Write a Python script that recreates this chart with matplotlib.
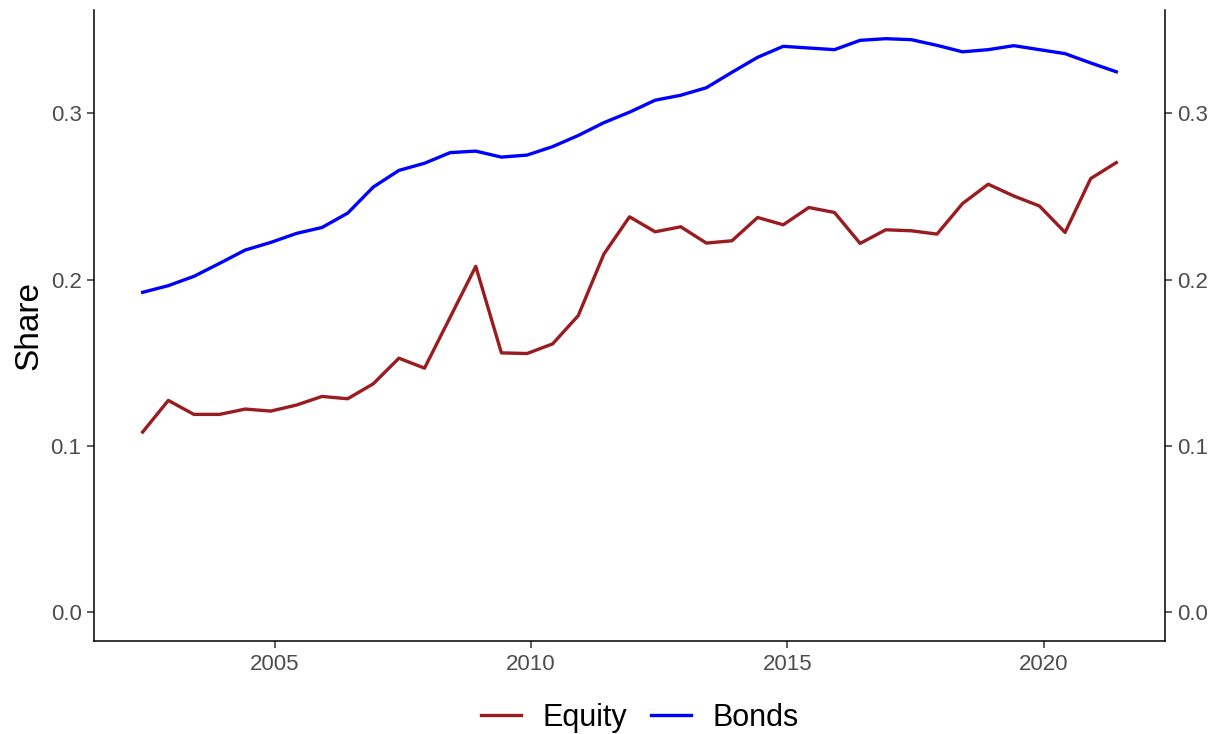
import matplotlib.pyplot as plt
import numpy as np

plt.rcParams['font.family'] = ['Liberation Sans', 'DejaVu Sans']

# semiannual observations, mid 2002 to mid 2021
start_year = 2002.42
n_obs = 39
years = start_year + 0.5 * np.arange(n_obs)

equity = [0.1084, 0.1274, 0.1190, 0.1190, 0.1222, 0.1210, 0.1246, 0.1298, 0.1284, 0.1374,
          0.1528, 0.1468, 0.1774, 0.2080, 0.1560, 0.1556, 0.1614, 0.1784, 0.2154, 0.2378,
          0.2288, 0.2318, 0.2220, 0.2234, 0.2374, 0.2330, 0.2434, 0.2404, 0.2218, 0.2300,
          0.2294, 0.2274, 0.2458, 0.2574, 0.2503, 0.2443, 0.2284, 0.2608, 0.2704]

bonds = [0.1924, 0.1964, 0.2020, 0.2098, 0.2178, 0.2224, 0.2278, 0.2314, 0.2400, 0.2557,
         0.2657, 0.2700, 0.2764, 0.2773, 0.2737, 0.2749, 0.2800, 0.2867, 0.2944, 0.3007,
         0.3079, 0.3109, 0.3154, 0.3247, 0.3337, 0.3403, 0.3393, 0.3383, 0.3439, 0.3449,
         0.3443, 0.3409, 0.3370, 0.3383, 0.3407, 0.3383, 0.3359, 0.3303, 0.3250]

x_ticks = [2005, 2010, 2015, 2020]
y_ticks = [0.0, 0.1, 0.2, 0.3]

W, H = 1211, 734
fig = plt.figure(figsize=(W / 100, H / 100), dpi=100)
ax = fig.add_axes([94 / W, (H - 641) / H, (1165 - 94) / W, (641 - 10) / H])

ax.plot(years, equity, color='#9A1B20', lw=2.4, label='Equity')
ax.plot(years, bonds, color='#0000FF', lw=2.4, label='Bonds')

# ggplot-like 5% expansion, y limits include zero
xr = years[-1] - years[0]
ax.set_xlim(years[0] - 0.05 * xr, years[-1] + 0.05 * xr)
ymax = max(bonds)
ax.set_ylim(-0.05 * ymax, ymax * 1.05)

ax.set_xticks(x_ticks)
ax.set_yticks(y_ticks)
ax.set_yticklabels(['%.1f' % v for v in y_ticks])

ax.spines['top'].set_visible(False)
for s in ['left', 'right', 'bottom']:
    ax.spines[s].set_linewidth(1.1)
    ax.spines[s].set_color('black')

ax.tick_params(axis='both', which='both', direction='out', length=5, width=1.1,
               color='#333333', labelsize=16, labelcolor='#4D4D4D', pad=4)
ax.tick_params(axis='y', right=True, labelright=True)

ax.set_ylabel('Share', fontsize=24, labelpad=4)

fig.legend(loc='center', bbox_to_anchor=(640 / W, (H - 718) / H), ncol=2, frameon=False,
           fontsize=22, handlelength=1.3, handletextpad=0.7, columnspacing=0.8)

fig.savefig('out.png', dpi=100)
